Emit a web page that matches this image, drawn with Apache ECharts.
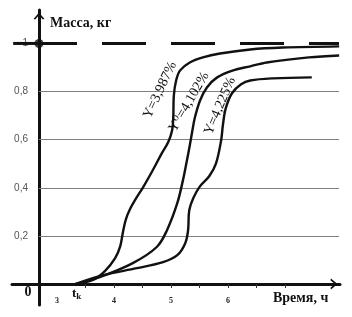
<!DOCTYPE html>
<html>
<head>
<meta charset="utf-8">
<script src="https://cdn.jsdelivr.net/npm/echarts@6/dist/echarts.min.js"></script>
<style>html,body{margin:0;padding:0;background:#fff;}</style>
</head>
<body>
<div id="chart" style="width:352px;height:317px;"></div>
<script>
// кривые: время, ч / масса, кг
const t1 = [3.32, 3.63, 3.84, 4.02, 4.11, 4.16, 4.21, 4.28, 4.40, 4.51, 4.68, 4.84, 4.95, 5.02, 5.04, 5.05, 5.09, 5.16, 5.33, 5.56, 5.86, 6.39, 6.96, 7.95];
const m1 = [0, 0.017, 0.054, 0.108, 0.158, 0.220, 0.270, 0.311, 0.361, 0.402, 0.473, 0.544, 0.589, 0.639, 0.693, 0.784, 0.846, 0.888, 0.921, 0.942, 0.958, 0.975, 0.983, 0.988];
const t2 = [3.32, 3.75, 4.33, 4.75, 4.93, 5.11, 5.21, 5.28, 5.33, 5.37, 5.42, 5.51, 5.63, 5.81, 6.09, 6.39, 6.68, 7.42, 7.95];
const m2 = [0, 0.029, 0.087, 0.154, 0.224, 0.336, 0.432, 0.515, 0.577, 0.631, 0.693, 0.763, 0.817, 0.859, 0.888, 0.905, 0.921, 0.942, 0.950];
const t3 = [3.32, 3.81, 4.40, 4.86, 5.11, 5.25, 5.30, 5.32, 5.39, 5.51, 5.67, 5.79, 5.88, 5.91, 5.96, 6.07, 6.23, 6.39, 6.79, 7.47];
const m3 = [0, 0.037, 0.066, 0.091, 0.120, 0.170, 0.224, 0.307, 0.357, 0.407, 0.448, 0.502, 0.598, 0.660, 0.730, 0.793, 0.830, 0.846, 0.855, 0.859];
const curveNames = ['Y=3,987%', 'Y⁰=4,102%', 'Y=4,225%'];

const xLabels = [3, 4, 5, 6];
const xTicks = [3.5, 4, 4.5, 5, 5.5, 6, 6.5, 7];
const yLabels = [0.2, 0.4, 0.6, 0.8, 1];
const gridLevels = [0.2, 0.4, 0.6, 0.8];
const limit = 1;

const x0 = 2.684;   // где проходит ось массы
const xMin = 2.2105, xMax = 7.965, xEnd = 7.947;
const serif = '"Liberation Serif", "DejaVu Serif", serif';

function zip(a, b) { return a.map((v, i) => [v, b[i]]); }

const chart = echarts.init(document.getElementById('chart'));

const curveStyle = { color: '#111', width: 2.4 };
function curve(name, t, m) {
    return {
        name: name, type: 'line', data: zip(t, m), smooth: 0.35,
        showSymbol: false, silent: true, clip: false,
        lineStyle: curveStyle, z: 5
    };
}
function curveText(i, x, y, rot) {
    return { type: 'text', x: x, y: y, rotation: rot, z: 10, style: { text: curveNames[i],
        font: '14px ' + serif, fill: '#111', textAlign: 'center', textVerticalAlign: 'middle' } };
}
const chevron = 'path://M0,12 L10,0 L20,12 L17,13 L10,5 L3,13 Z';

let option = {
    animation: false,
    grid: { left: 12, right: 12, top: 10, bottom: 12 },
    xAxis: {
        type: 'value', min: xMin, max: xMax, offset: -21,
        axisLine: { onZero: false, lineStyle: { color: '#111', width: 3 },
            symbol: ['none', chevron], symbolSize: [11, 13], symbolOffset: [0, -6] },
        axisTick: { show: true, customValues: xTicks, length: 4, inside: false,
            lineStyle: { color: '#333', width: 1 } },
        axisLabel: { customValues: xLabels, margin: 13, fontSize: 8, fontWeight: 'bold',
            fontFamily: serif, color: '#222' },
        splitLine: { show: false }
    },
    yAxis: {
        type: 'value', min: -0.087, max: 1.139, offset: -27,
        axisLine: { show: true, onZero: false, lineStyle: { color: '#111', width: 3 },
            symbol: ['none', chevron], symbolSize: [11, 13], symbolOffset: [0, -6] },
        axisTick: { show: false },
        axisLabel: { customValues: yLabels, margin: 11, fontSize: 10,
            fontFamily: '"Liberation Sans", Arial, sans-serif', color: '#555',
            formatter: v => String(v).replace('.', ',') },
        splitLine: { show: false }
    },
    series: [
        {
            // сетка
            type: 'line', data: [], silent: true,
            markLine: {
                silent: true, symbol: ['none', 'none'], label: { show: false },
                lineStyle: { color: '#808080', width: 1, type: 'solid' },
                data: gridLevels.map(v => [{ coord: [x0, v] }, { coord: [xEnd, v] }])
            }
        },
        {
            // предел 1 кг
            type: 'line', data: [[xMin + 0.02, limit], [x0, limit]], silent: true,
            showSymbol: false, clip: false, lineStyle: { color: '#111', width: 3 }, z: 4
        },
        {
            type: 'line', data: [[x0, limit], [xEnd, limit]], silent: true,
            showSymbol: false, clip: false,
            lineStyle: { color: '#111', width: 3, type: [44, 25], dashOffset: 6 }, z: 4
        },
        {
            type: 'scatter', data: [[x0, limit]], symbolSize: 9, silent: true,
            itemStyle: { color: '#111' }, z: 6
        },
        curve(curveNames[0], t1, m1),
        curve(curveNames[1], t2, m2),
        curve(curveNames[2], t3, m3)
    ],
    graphic: [
        { type: 'text', x: 50, y: 23, style: { text: 'Масса, кг', font: 'bold 14px ' + serif,
            fill: '#111', textVerticalAlign: 'middle' } },
        { type: 'text', x: 273, y: 298, style: { text: 'Время, ч', font: 'bold 14px ' + serif,
            fill: '#111', textVerticalAlign: 'middle' } },
        { type: 'text', x: 28, y: 292, style: { text: '0', font: 'bold 14px ' + serif,
            fill: '#111', textAlign: 'center', textVerticalAlign: 'middle' } },
        { type: 'text', x: 72, y: 286, style: { text: '{t|t}{k|k}', fill: '#111',
            rich: { t: { font: 'bold 13px ' + serif }, k: { font: 'bold 9px ' + serif, padding: [6, 0, 0, 0] } } } },
        curveText(0, 160, 90, 1.13),
        curveText(1, 189, 102, 1.04),
        curveText(2, 220, 106, 1.17)
    ]
};
chart.setOption(option);
</script>
</body>
</html>
